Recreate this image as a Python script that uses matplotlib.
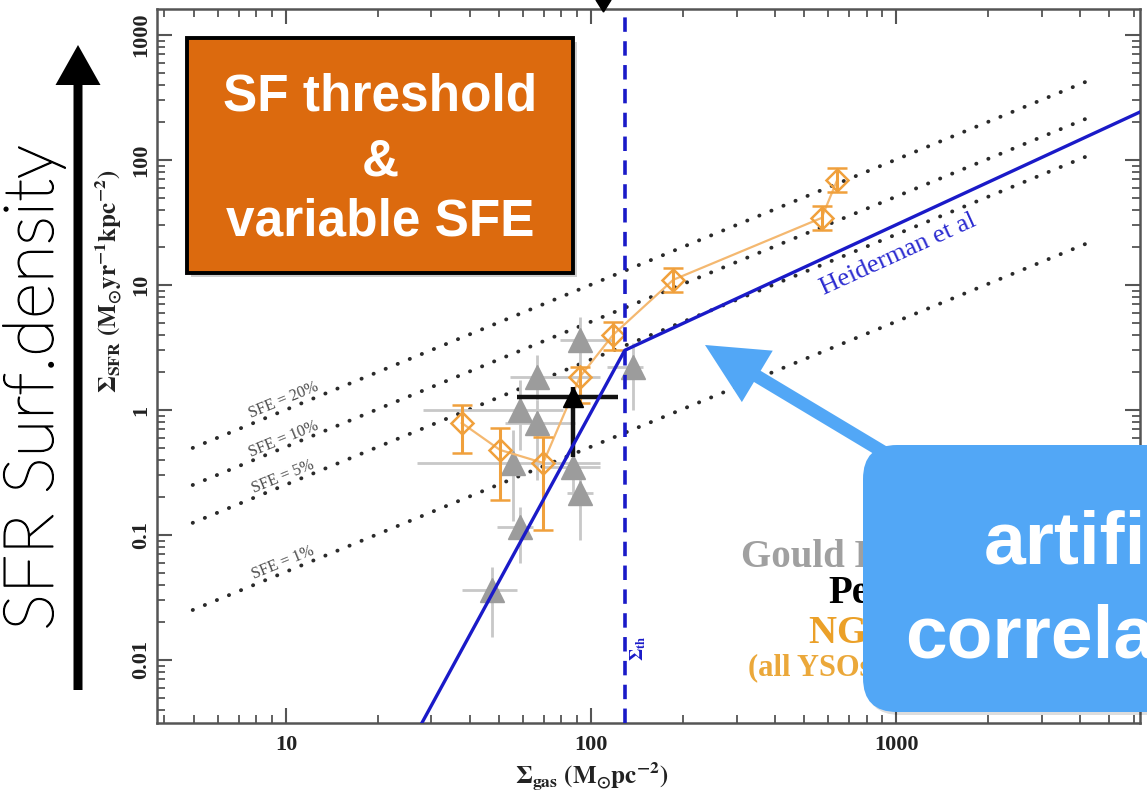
import matplotlib.pyplot as plt
import matplotlib.patheffects as pe
from matplotlib.patches import FancyBboxPatch, FancyArrow, Polygon, Rectangle
from matplotlib.ticker import NullFormatter

plt.rcParams['mathtext.fontset'] = 'stix'
plt.rcParams['mathtext.default'] = 'bf'

W, H = 1147, 799
SERIF = 'Liberation Serif'
SANS = 'Liberation Sans'

# --- data ---
# SFE reference lines (Sigma_SFR = SFE * Sigma_gas / 2 Myr), end points
sfe_x = [4.95, 4490]
sfe_20 = [0.497, 453]
sfe_10 = [0.251, 229]
sfe_5 = [0.125, 114]
sfe_1 = [0.0251, 22.9]
sfe_labels = ['SFE = 20%', 'SFE = 10%', 'SFE = 5%', 'SFE = 1%']
sfe_label_y = [1.2, 0.588, 0.294, 0.0598]
sfe_label_x = 9.8

# Heiderman et al broken power law (threshold at 129 Msun/pc^2)
heid_x = [27.9, 129, 6300]
heid_y = [0.00313, 3.0, 242]
sigma_th = 129

# Gould Belt clouds (grey triangles)
gb_x = [47.2, 58.5, 92.0, 87.3, 55.5, 66.5, 58.5, 66.5, 92.0, 137.0]
gb_y = [0.036, 0.116, 0.217, 0.35, 0.377, 0.787, 1.0, 1.84, 3.63, 2.21]
gb_x_lo = [37.7, 49.2, 83.4, 69.7, 26.9, 52.2, 28.1, 54.2, 79.1, 113]
gb_x_hi = [57.0, 64.6, 101.6, 107, 107, 88.7, 80.9, 107, 118, 148]
gb_y_lo = [0.0153, 0.0597, 0.091, 0.19, 0.13, 0.275, 0.48, 1.2, 1.84, 1.0]
gb_y_hi = [0.0555, 0.1675, 0.331, 0.575, 0.69, 1.2, 1.74, 2.75, 5.55, 3.44]

# Perseus (black triangle)
per_x, per_y = 87.3, 1.27
per_x_lo, per_x_hi = 57.1, 122.7
per_y_lo, per_y_hi = 0.42, 1.53

# NGC 1333 (orange diamonds)
ngc_x = [37.7, 50.3, 69.7, 92.0, 118, 186, 570, 641]
ngc_y = [0.787, 0.479, 0.377, 1.84, 3.98, 11.0, 34.4, 69.2]
ngc_y_lo = [0.453, 0.19, 0.11, 1.14, 3.02, 8.8, 27.5, 55]
ngc_y_hi = [1.10, 0.718, 0.608, 2.21, 5.06, 13.7, 43, 86]

BLUE = '#1a1ac8'
ORANGE = '#f0a03c'
GREY = '#9c9c9c'

fig = plt.figure(figsize=(W / 100, H / 100), dpi=100)
fig.patch.set_facecolor('white')

ax = fig.add_axes([157 / W, 1 - 723 / H, (1140 - 157) / W, (723 - 9) / H])
ax.set_xscale('log')
ax.set_yscale('log')
ax.set_xlim(3.78, 6300)
ax.set_ylim(0.00313, 1614)

# SFE dotted lines
for ys in [sfe_20, sfe_10, sfe_5, sfe_1]:
    ax.plot(sfe_x, ys, color='#2a2a2a', lw=2.8, linestyle=(0, (0.05, 3.3)),
            dash_capstyle='round', zorder=1)
for lab, ly in zip(sfe_labels, sfe_label_y):
    ax.text(sfe_label_x, ly, lab, rotation=22.3, ha='center', va='center',
            fontsize=11.5, family=SERIF, color='#4a4a4a', zorder=2)

# Gould belt
ax.errorbar(gb_x, gb_y,
            xerr=[[x - lo for x, lo in zip(gb_x, gb_x_lo)],
                  [hi - x for x, hi in zip(gb_x, gb_x_hi)]],
            yerr=[[y - lo for y, lo in zip(gb_y, gb_y_lo)],
                  [hi - y for y, hi in zip(gb_y, gb_y_hi)]],
            fmt='^', ms=17, color=GREY, mec=GREY, ecolor='#c8c8c8',
            elinewidth=2, capsize=0, zorder=3)

# NGC 1333
ax.plot(ngc_x, ngc_y, color='#f4b870', lw=1.6, zorder=4)
ax.errorbar(ngc_x, ngc_y,
            yerr=[[y - lo for y, lo in zip(ngc_y, ngc_y_lo)],
                  [hi - y for y, hi in zip(ngc_y, ngc_y_hi)]],
            fmt='D', ms=11, mfc='none', mec=ORANGE, mew=1.8, color=ORANGE,
            ecolor=ORANGE, elinewidth=2.2, capsize=7, capthick=2.2, zorder=5)

# Perseus
ax.errorbar([per_x], [per_y],
            xerr=[[per_x - per_x_lo], [per_x_hi - per_x]],
            yerr=[[per_y - per_y_lo], [per_y_hi - per_y]],
            fmt='^', ms=15, color='black', ecolor='#111111',
            elinewidth=3.2, capsize=0, zorder=6)

# Heiderman relation and threshold
ax.plot(heid_x, heid_y, color=BLUE, lw=2.4, zorder=7)
ax.axvline(sigma_th, color=BLUE, lw=2.6, linestyle=(0, (4, 2.6)), zorder=7)
ax.text(1016, 17.4, 'Heiderman et al', rotation=24.5, ha='center', va='center',
        fontsize=19, family=SERIF, color='#2a2ad0', zorder=8)
ax.text(142.6, 0.0125, r'$\Sigma_{th}$', rotation=90, ha='center', va='center',
        fontsize=13, color=BLUE, zorder=8)

# axes styling
ax.set_xticks([10, 100, 1000], ['10', '100', '1000'])
ax.set_yticks([0.01, 0.1, 1, 10, 100, 1000],
              ['0.01', '0.1', '1', '10', '100', '1000'])
ax.xaxis.set_minor_formatter(NullFormatter())
ax.yaxis.set_minor_formatter(NullFormatter())
ax.tick_params(which='both', direction='in', top=True, right=True,
               color='#555555')
ax.tick_params(which='major', length=11, width=1.5)
ax.tick_params(which='minor', length=5.5, width=1.3)
ax.tick_params(axis='x', pad=9, labelsize=16)
ax.tick_params(axis='y', pad=4, labelsize=16, labelrotation=90)
for lab in ax.get_xticklabels() + ax.get_yticklabels():
    lab.set_family(SERIF)
    lab.set_fontweight('bold')
    lab.set_color('#222222')
for lab in ax.get_yticklabels():
    lab.set_va('center')
for sp in ax.spines.values():
    sp.set_color('#555555')
    sp.set_linewidth(1.8)

ax.set_xlabel(r'$\Sigma_{gas}\ (M_{\odot}pc^{-2})$', fontsize=18, color='#222222')
ax.xaxis.set_label_coords((592 - 157) / 983, -(760 - 723) / 714)
ax.set_ylabel(r'$\Sigma_{SFR}\ (M_{\odot}yr^{-1}kpc^{-2})$', fontsize=18,
              color='#222222')
ax.yaxis.set_label_coords(-(157 - 124) / 983, (723 - 281) / 714)

# --- slide overlay, pixel coordinates ---
ov = fig.add_axes([0, 0, 1, 1], zorder=10)
ov.set_xlim(0, W)
ov.set_ylim(H, 0)
ov.axis('off')
ov.patch.set_alpha(0)

# legend text (partly hidden by the blue box)
ov.text(741, 567, 'Gould Belt', fontsize=28, family=SERIF, weight='bold',
        color='#a0a0a0', va='baseline', zorder=1)
ov.text(828, 603, 'Perseus', fontsize=28, family=SERIF, weight='bold',
        color='black', va='baseline', zorder=1)
ov.text(809, 643, 'NGC 1333', fontsize=28, family=SERIF, weight='bold',
        color='#eba028', va='baseline', zorder=1)
ov.text(748, 675, '(all YSOs)', fontsize=22, family=SERIF, weight='bold',
        color='#eba83a', va='baseline', zorder=1)

# orange box
ov.add_patch(Rectangle((191, 42), 386, 235, facecolor='#00000030',
                       edgecolor='none', zorder=2))
ov.add_patch(Rectangle((187, 38), 386, 235, facecolor='#dc6a0e',
                       edgecolor='black', lw=2.8, zorder=3))
for txt, yy in [('SF threshold', 97), ('&', 162), ('variable SFE', 222)]:
    ov.text(380, yy, txt, fontsize=37, family=SANS, weight='bold',
            color='white', ha='center', va='center', zorder=4)

# blue arrow and box
ov.add_patch(FancyArrow(890, 456, 705 - 890, 345 - 456, width=13,
                        head_width=60, head_length=61,
                        length_includes_head=True, color='#52a7f6',
                        lw=0, zorder=5))
ov.add_patch(FancyBboxPatch((866, 448), 330, 267,
                            boxstyle='round,pad=0,rounding_size=34',
                            facecolor='#00000022', edgecolor='none', zorder=5))
ov.add_patch(FancyBboxPatch((863, 445), 330, 267,
                            boxstyle='round,pad=0,rounding_size=34',
                            facecolor='#52a7f6', edgecolor='none', zorder=6))
ov.text(984, 563, 'artificial', fontsize=54, family=SANS, weight='bold',
        color='white', va='baseline', zorder=7)
ov.text(905, 657, 'correlation', fontsize=54, family=SANS, weight='bold',
        color='white', va='baseline', zorder=7)

# black arrow on the left with its caption
ov.add_patch(FancyArrow(78, 690, 0, 45 - 690, width=9, head_width=45,
                        head_length=40, length_includes_head=True,
                        color='black', lw=0, zorder=5))
ov.text(34, 388, 'SFR Surf.density', rotation=90, fontsize=50, family='Lato',
        weight='light', color='black', ha='center', va='center', zorder=5,
        path_effects=[pe.withStroke(linewidth=1.0, foreground='black')])

# tip of an arrow coming from above the crop
ov.add_patch(Polygon([(596, 0), (611, 0), (603.5, 12)], color='black', zorder=5))

fig.savefig('out.png', dpi=100)
